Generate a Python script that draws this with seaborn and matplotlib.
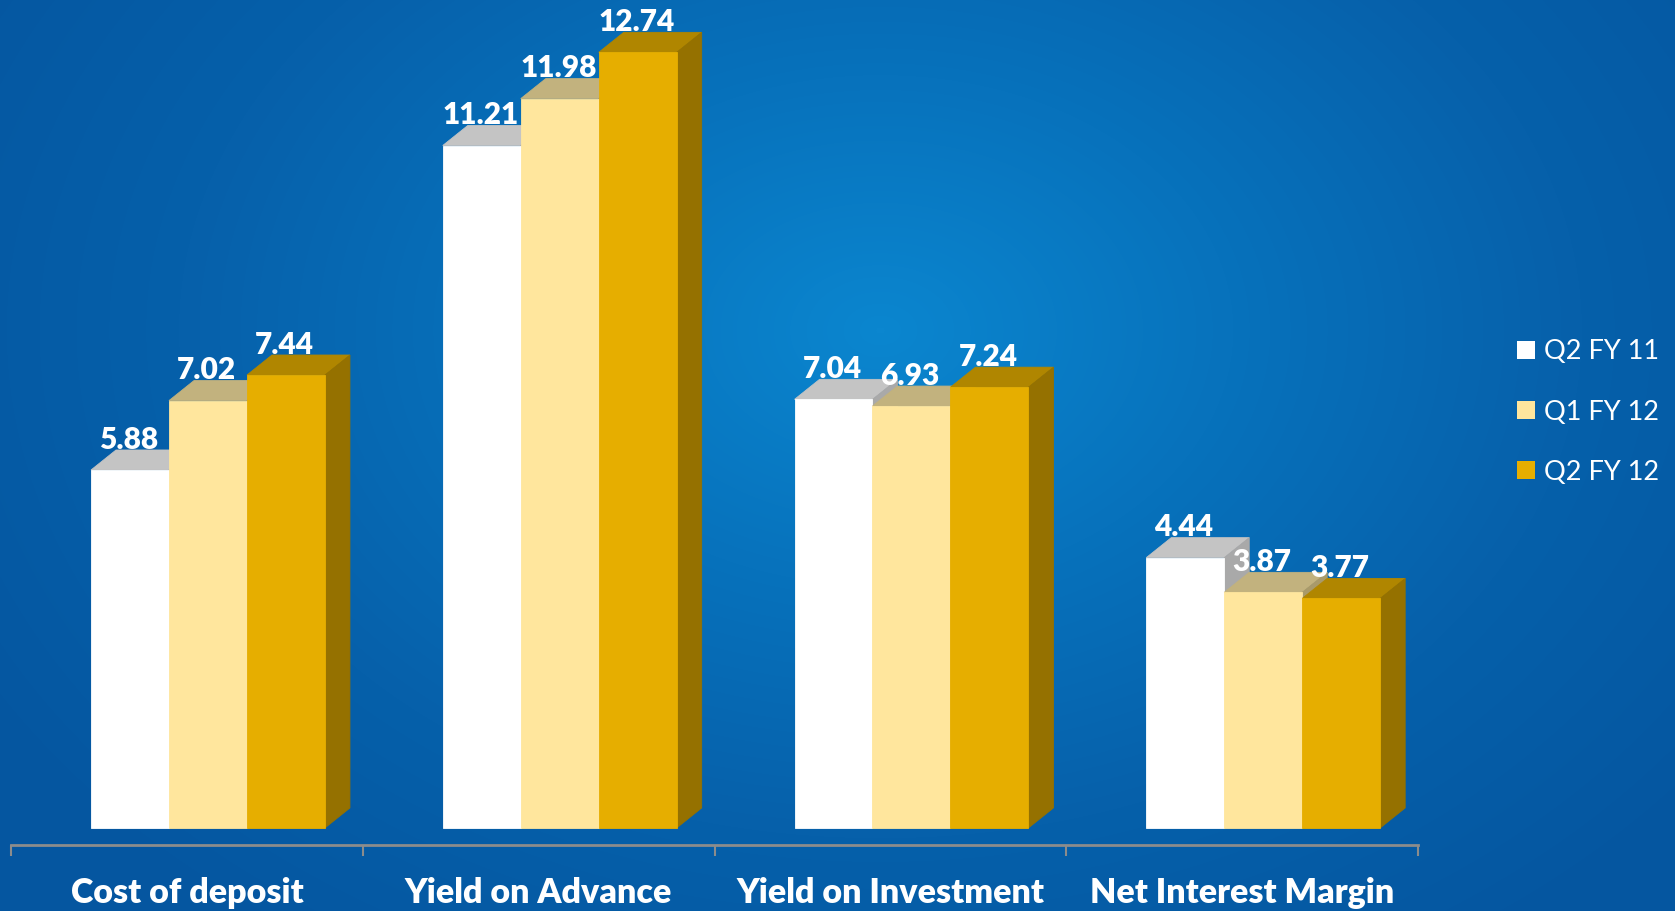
import numpy as np
import pandas as pd
import matplotlib
matplotlib.use("Agg")
import matplotlib.pyplot as plt
import seaborn as sns
from matplotlib.patches import Polygon, Patch
from matplotlib.colors import LinearSegmentedColormap

# ---- data -------------------------------------------------------------
categories = ["Cost of deposit", "Yield on Advance", "Yield on Investment", "Net Interest Margin"]
periods = ["Q2 FY 11", "Q1 FY 12", "Q2 FY 12"]
q2_fy11 = [5.88, 11.21, 7.04, 4.44]
q1_fy12 = [7.02, 11.98, 6.93, 3.87]
q2_fy12 = [7.44, 12.74, 7.24, 3.77]

# ---- styling ----------------------------------------------------------
front_colors = ["#FFFFFF", "#FFE69D", "#E6AE00"]
top_colors = ["#C4C4C4", "#C2B27E", "#B08600"]
side_colors = ["#A9A9A9", "#A99A6A", "#957100"]
DEPTH_X, DEPTH_Y = 25, 20  # oblique depth of the boxes, in pixels

df = pd.DataFrame({
    "category": categories * 3,
    "period": np.repeat(periods, len(categories)),
    "value": q2_fy11 + q1_fy12 + q2_fy12,
})

sns.set_theme(style="white")
plt.rcParams["font.family"] = ["Lato", "DejaVu Sans"]

W, H = 1675, 911
fig = plt.figure(figsize=(W / 100, H / 100), dpi=100)

# radial blue backdrop
bg = fig.add_axes([0, 0, 1, 1], zorder=-10)
yy, xx = np.mgrid[0:H, 0:W]
r = np.sqrt(((xx - 880) / 1050) ** 2 + ((yy - 330) / 760) ** 2)
cmap = LinearSegmentedColormap.from_list("bg", ["#0B86CF", "#0772BC", "#0660AA", "#0556A0"])
bg.imshow(np.clip(r, 0, 1), cmap=cmap, vmin=0, vmax=1, aspect="auto",
          extent=[0, 1, 0, 1], interpolation="bilinear")
bg.set_axis_off()

ax = fig.add_axes([11 / W, 66 / H, (1418 - 11) / W, 845 / H])
ax.patch.set_alpha(0)

sns.barplot(data=df, x="category", y="value", hue="period", order=categories,
            hue_order=periods, palette=front_colors, width=0.665, saturation=1,
            linewidth=0, errorbar=None, legend=False, ax=ax)

ax.set_xlim(-0.56, 3.44)
ax.set_ylim(-0.28, 13.6)

# convert the pixel depth into data units
fig.canvas.draw()
inv = ax.transData.inverted()
o = inv.transform(ax.transData.transform((0, 0)))
d = inv.transform(ax.transData.transform((0, 0)) + np.array([DEPTH_X, DEPTH_Y]))
ddx, ddy = d - o

for j, cont in enumerate(ax.containers):
    for bar in cont:
        x0 = bar.get_x()
        x1 = x0 + bar.get_width()
        h = bar.get_height()
        bar.set_zorder(3 + 2 * j)
        bar.set_edgecolor(front_colors[j])
        bar.set_linewidth(0.6)
        top = Polygon([(x0, h), (x1, h), (x1 + ddx, h + ddy), (x0 + ddx, h + ddy)],
                      closed=True, facecolor=top_colors[j], edgecolor=top_colors[j],
                      linewidth=0.6, zorder=2 + 2 * j)
        side = Polygon([(x1, 0), (x1 + ddx, ddy), (x1 + ddx, h + ddy), (x1, h)],
                       closed=True, facecolor=side_colors[j], edgecolor=side_colors[j],
                       linewidth=0.6, zorder=2 + 2 * j)
        ax.add_patch(top)
        ax.add_patch(side)
        ax.annotate(f"{h:.2f}", xy=(x0 + bar.get_width() / 2, h),
                    xytext=(-1, DEPTH_Y * 0.72 + 1), textcoords="offset points",
                    ha="center", va="baseline", color="white", fontsize=21.5,
                    fontweight="heavy", zorder=20)

# axis: gray baseline with boundary ticks, labels centred between them
for s in ["left", "right", "top"]:
    ax.spines[s].set_visible(False)
ax.spines["bottom"].set_color("#8C8C8C")
ax.spines["bottom"].set_linewidth(2)
ax.set_yticks([])
ax.set_ylabel("")
ax.set_xlabel("")
ax.set_xticks(np.arange(len(categories)) - 0.06, labels=categories)
ax.set_xticks(np.arange(len(categories) + 1) - 0.56, minor=True)
ax.tick_params(axis="x", which="major", length=0, pad=23, labelsize=24.5,
               labelcolor="white")
ax.tick_params(axis="x", which="minor", length=8, width=1.5, color="#8C8C8C",
               direction="out", bottom=True)
for lab in ax.get_xticklabels():
    lab.set_fontweight("heavy")

handles = [Patch(facecolor=c, edgecolor="none") for c in front_colors]
leg = fig.legend(handles, periods, loc="center left",
                 bbox_to_anchor=(1517 / W, 1 - 412 / H), frameon=False,
                 fontsize=19.5, handlelength=0.66, handleheight=0.66,
                 handletextpad=0.35, labelspacing=1.3, borderpad=0,
                 borderaxespad=0)
for t in leg.get_texts():
    t.set_color("white")

fig.savefig("out.png", dpi=100)
